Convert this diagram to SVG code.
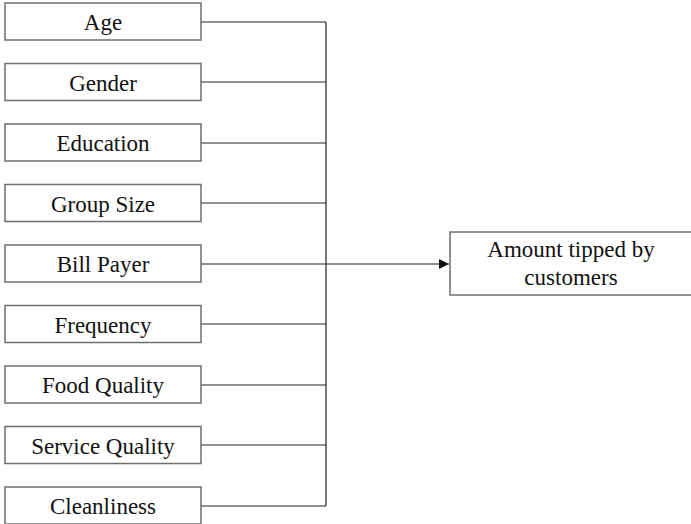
<svg xmlns="http://www.w3.org/2000/svg" width="691" height="524" viewBox="0 0 691 524">
<defs>
<style>
.box{fill:#fff;stroke:#6e6e6e;stroke-width:1.5}
.t{font-family:'Liberation Serif','DejaVu Serif',serif;font-size:23px;fill:#111;text-anchor:middle}
.c{fill:none;stroke:#222;stroke-width:1.2}
</style>
<marker id="arr" viewBox="0 0 10 10" refX="10" refY="5" markerWidth="10" markerHeight="10" markerUnits="userSpaceOnUse" orient="auto">
<path d="M0,0 L10,5 L0,10 z" fill="#111"/>
</marker>
</defs>
<rect width="691" height="524" fill="#fff"/>
<g id="connectors">
<path class="c" d="M201,22 H326 M201,82 H326 M201,143 H326 M201,203 H326 M201,324 H326 M201,385 H326 M201,445 H326 M201,506 H326 M326,22 V506"/>
<path class="c" d="M201,264 H449" marker-end="url(#arr)"/>
</g>
<g id="age"><rect class="box" x="5" y="3" width="196" height="37"/><text class="t" x="103" y="30">Age</text></g>
<g id="gender"><rect class="box" x="5" y="63.5" width="196" height="37"/><text class="t" x="103" y="90.5">Gender</text></g>
<g id="education"><rect class="box" x="5" y="124" width="196" height="37"/><text class="t" x="103" y="151">Education</text></g>
<g id="group-size"><rect class="box" x="5" y="184.5" width="196" height="37"/><text class="t" x="103" y="211.5">Group Size</text></g>
<g id="bill-payer"><rect class="box" x="5" y="245" width="196" height="37"/><text class="t" x="103" y="272">Bill Payer</text></g>
<g id="frequency"><rect class="box" x="5" y="305.5" width="196" height="37"/><text class="t" x="103" y="332.5">Frequency</text></g>
<g id="food-quality"><rect class="box" x="5" y="366" width="196" height="37"/><text class="t" x="103" y="393">Food Quality</text></g>
<g id="service-quality"><rect class="box" x="5" y="426.5" width="196" height="37"/><text class="t" x="103" y="453.5">Service Quality</text></g>
<g id="cleanliness"><rect class="box" x="5" y="487" width="196" height="37"/><text class="t" x="103" y="514">Cleanliness</text></g>
<g id="amount-tipped"><rect class="box" x="450" y="232" width="242" height="63"/><text class="t" x="571" y="257">Amount tipped by</text><text class="t" x="571" y="285">customers</text></g>
</svg>
